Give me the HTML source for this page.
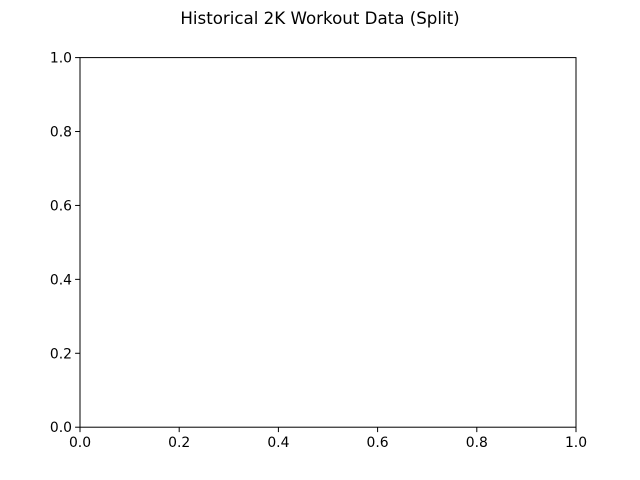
<!DOCTYPE html>
<html><head><meta charset="utf-8"><style>
html,body{margin:0;padding:0;background:#fff;width:640px;height:480px;overflow:hidden}
svg text{font-family:"DejaVu Sans","Liberation Sans",sans-serif;fill:#000}
</style></head><body>
<svg id="chart" width="640" height="480" xmlns="http://www.w3.org/2000/svg">
<text x="320" y="24" font-size="16.67" text-anchor="middle">Historical 2K Workout Data (Split)</text>
<rect x="80" y="57.6" width="496" height="369.6" fill="none" stroke="#000" stroke-width="1"/>
<g id="xticks"></g>
<g id="yticks"></g>
</svg>
<script>
const xTicks = [0.0, 0.2, 0.4, 0.6, 0.8, 1.0];
const yTicks = [0.0, 0.2, 0.4, 0.6, 0.8, 1.0];
const xLabels = ["0.0","0.2","0.4","0.6","0.8","1.0"];
const yLabels = ["0.0","0.2","0.4","0.6","0.8","1.0"];
const NS="http://www.w3.org/2000/svg";
const L=80,R=576,T=57.6,B=427.2;
const xs=v=>L+v*(R-L), ys=v=>B-v*(B-T);
const gx=document.getElementById('xticks'), gy=document.getElementById('yticks');
xTicks.forEach((v,i)=>{
  const l=document.createElementNS(NS,'line');
  
  
  l.setAttribute('x1',xs(v));l.setAttribute('x2',xs(v));l.setAttribute('y1',B);l.setAttribute('y2',B+4.9);l.setAttribute('stroke','#000');
  gx.appendChild(l);
  const t=document.createElementNS(NS,'text');
  
  
  t.setAttribute('x',xs(v));t.setAttribute('y',B+20);t.setAttribute('font-size','13.9');t.setAttribute('text-anchor','middle');
  t.textContent=xLabels[i];gx.appendChild(t);
});
yTicks.forEach((v,i)=>{
  const l=document.createElementNS(NS,'line');
  
  
  l.setAttribute('x1',L-4.9);l.setAttribute('x2',L);l.setAttribute('y1',ys(v));l.setAttribute('y2',ys(v));l.setAttribute('stroke','#000');
  gy.appendChild(l);
  const t=document.createElementNS(NS,'text');
  
  
  t.setAttribute('x',L-8);t.setAttribute('y',ys(v)+5);t.setAttribute('font-size','13.9');t.setAttribute('text-anchor','end');
  t.textContent=yLabels[i];gy.appendChild(t);
});
</script>
</body></html>
